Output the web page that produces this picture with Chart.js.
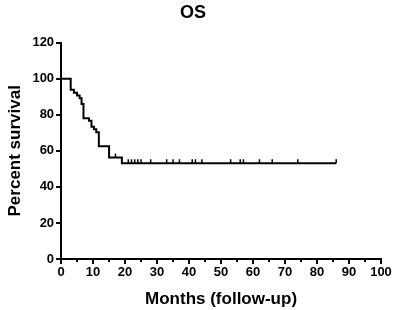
<!DOCTYPE html>
<html>
<head>
<meta charset="utf-8">
<script src="https://cdn.jsdelivr.net/npm/chart.js@4.4.0/dist/chart.umd.min.js"></script>
<style>
  html, body { margin: 0; padding: 0; background: #fff; }
  #wrap { width: 399px; height: 310px; }
</style>
</head>
<body>
<div id="wrap"><canvas id="osChart"></canvas></div>
<script>
// Kaplan-Meier data
const eventMonths = [0, 3, 4, 5, 5.8, 6.4, 7, 8.7, 9.5, 10.3, 11, 11.8, 15, 19, 86];
const survivalPct = [100, 93.8, 92.2, 90.6, 89.1, 85.9, 78.1, 76.6, 73.4, 71.9, 70.3, 62.5, 56.3, 53.1, 53.1];
const censoredMonths = [17, 21, 22, 23, 24, 25, 28, 33, 35, 37, 41, 42, 44, 53, 56, 57, 62, 66, 74, 86];
const yTicks = [0, 20, 40, 60, 80, 100, 120];
const xTicks = [0, 10, 20, 30, 40, 50, 60, 70, 80, 90, 100];

// survival level at a given month (step function)
function levelAt(m) {
    let v = survivalPct[0];
    for (let i = 0; i < eventMonths.length; i++) {
        if (eventMonths[i] <= m) v = survivalPct[i];
    }
    return v;
}

const curve = eventMonths.map((m, i) => ({ x: m, y: survivalPct[i] }));
const censors = censoredMonths.map(m => ({ x: m, y: levelAt(m) }));

// small ticks at the 5s on the x axis
const minorTicks = {
    id: 'minorTicks',
    afterDraw(chart) {
        const ctx = chart.ctx;
        const sx = chart.scales.x;
        const y0 = chart.chartArea.bottom;
        ctx.save();
        ctx.strokeStyle = '#000';
        ctx.lineWidth = 2;
        for (let v = 5; v < 100; v += 10) {
            const px = Math.round(sx.getPixelForValue(v));
            ctx.beginPath();
            ctx.moveTo(px, y0);
            ctx.lineTo(px, y0 + 3);
            ctx.stroke();
        }
        ctx.restore();
    }
};

const tickFont = { family: 'Liberation Sans', size: 13, weight: 'bold' };
const titleFont = { family: 'Liberation Sans', size: 17, weight: 'bold' };

new Chart(document.getElementById('osChart'), {
    type: 'scatter',
    data: {
        datasets: [{
            data: curve,
            showLine: true,
            stepped: true,
            borderColor: '#000',
            borderWidth: 2,
            pointRadius: 0
        }, {
            data: censors,
            showLine: false,
            pointStyle: 'dash',
            rotation: -90,
            pointRadius: 4,
            borderColor: '#000',
            borderWidth: 1.5,
            backgroundColor: '#000'
        }]
    },
    options: {
        responsive: true,
        maintainAspectRatio: false,
        animation: false,
        layout: { padding: { left: 5, right: 18, top: 2, bottom: 0 } },
        plugins: {
            legend: { display: false },
            tooltip: { enabled: false },
            title: {
                display: true,
                text: 'OS',
                color: '#000',
                font: { family: 'Liberation Sans', size: 18, weight: 'bold' },
                padding: { top: 0, bottom: 19 }
            }
        },
        scales: {
            x: {
                type: 'linear',
                min: 0,
                max: 100,
                afterBuildTicks: s => { s.ticks = xTicks.map(v => ({ value: v })); },
                ticks: { color: '#000', font: tickFont, padding: 1, maxRotation: 0 },
                grid: { drawOnChartArea: false, color: '#000', lineWidth: 2, tickLength: 5 },
                border: { color: '#000', width: 2 },
                title: {
                    display: true,
                    text: 'Months (follow-up)',
                    color: '#000',
                    font: titleFont,
                    padding: { top: 8, bottom: 0 }
                }
            },
            y: {
                min: 0,
                max: 120,
                afterBuildTicks: s => { s.ticks = yTicks.map(v => ({ value: v })); },
                ticks: { color: '#000', font: tickFont, padding: 2 },
                grid: { drawOnChartArea: false, color: '#000', lineWidth: 2, tickLength: 5 },
                border: { color: '#000', width: 2 },
                title: {
                    display: true,
                    text: 'Percent survival',
                    color: '#000',
                    font: titleFont,
                    padding: { top: 0, bottom: 5 }
                }
            }
        }
    },
    plugins: [minorTicks]
});
</script>
</body>
</html>
